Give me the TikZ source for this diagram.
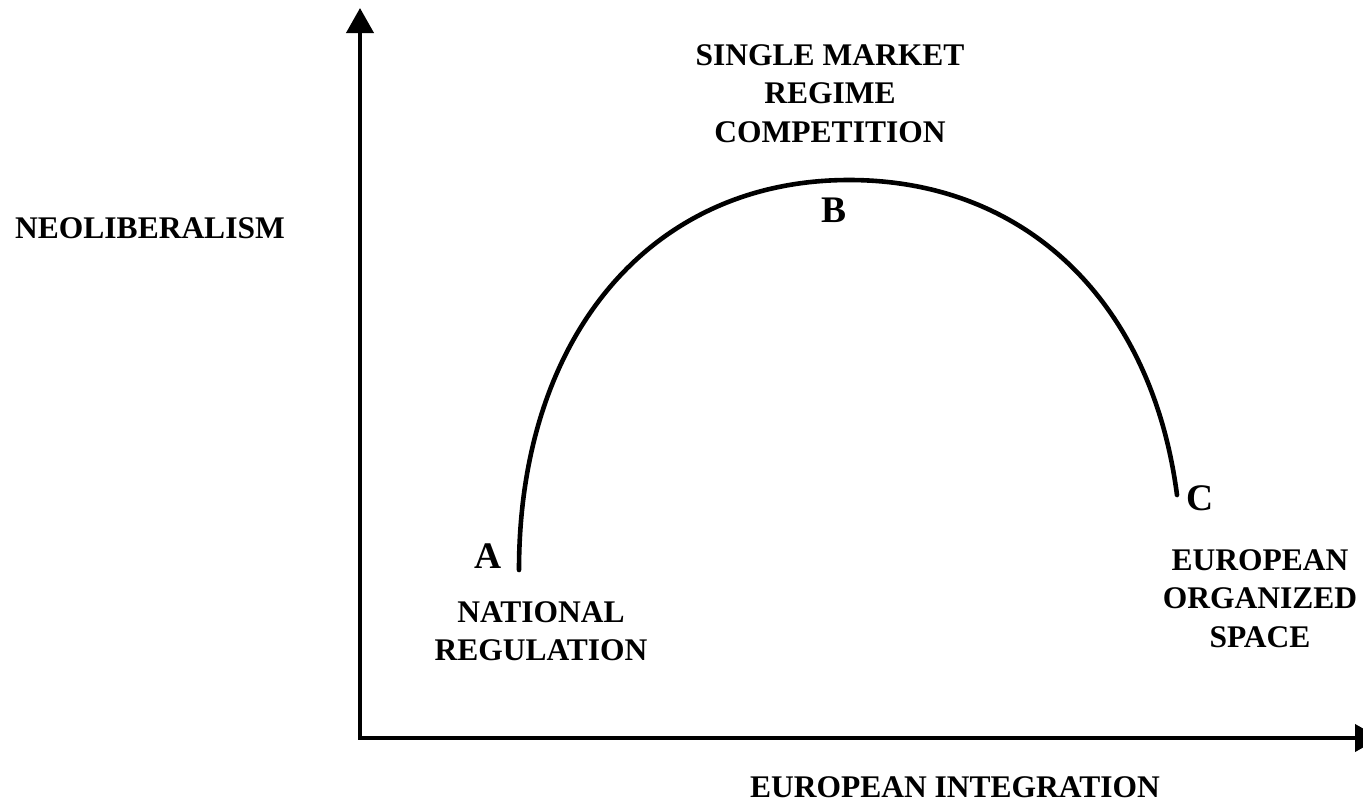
\documentclass[tikz,border=0pt]{standalone}
\usepackage{fontspec}
\setmainfont{Liberation Serif}
\usetikzlibrary{arrows.meta}
\begin{document}
\begin{tikzpicture}[x=1pt,y=-1pt,
  axis/.style={line width=4pt,line join=miter,
    {Triangle[length=25pt,width=27pt]}-{Triangle[length=25pt,width=27pt]}},
  trend/.style={line width=4.6pt,line cap=round},
  label/.style={font=\fontsize{31.5}{38.5}\selectfont\bfseries,inner sep=0pt,align=center},
  point/.style={font=\fontsize{37.5}{40}\selectfont\bfseries,inner sep=0pt}]
  \useasboundingbox (0,0) rectangle (1363,804);
  % axes
  \coordinate (origin) at (360,738);
  \coordinate (ytop) at (360,8);
  \coordinate (xend) at (1380,738);
  \draw[axis] (ytop) -- (origin) -- (xend);
  % axis titles
  \node[label,anchor=base] (ylab) at (150,238) {NEOLIBERALISM};
  \node[label,anchor=base] (xlab) at (955,797) {EUROPEAN INTEGRATION};
  % the trajectory A -> B -> C
  \coordinate (pa) at (519,570);
  \coordinate (pb) at (849,180);
  \coordinate (pc) at (1177,495);
  \draw[trend] (pa) .. controls (519,336) and (651,180) .. (pb)
                    .. controls (1027,180) and (1152,303) .. (pc);
  % point labels
  \node[point,anchor=base] (A) at (488,568) {A};
  \node[point,anchor=base] (B) at (834,222) {B};
  \node[point,anchor=base] (C) at (1200,510) {C};
  % regime descriptions
  \node[label,anchor=north] (single) at (830,44) {SINGLE MARKET\\REGIME\\COMPETITION};
  \node[label,anchor=north] (national) at (541,601) {NATIONAL\\REGULATION};
  \node[label,anchor=north] (space) at (1260,549) {EUROPEAN\\ORGANIZED\\SPACE};
\end{tikzpicture}
\end{document}
